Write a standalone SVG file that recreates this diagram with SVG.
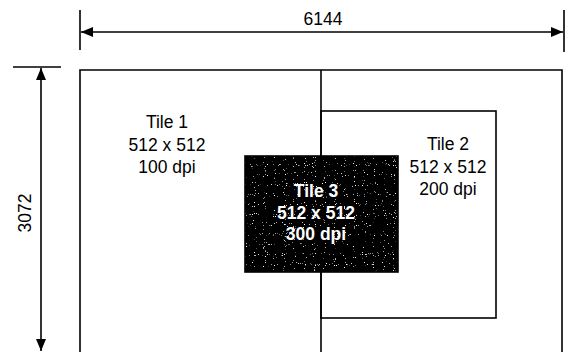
<svg xmlns="http://www.w3.org/2000/svg" width="569" height="352" viewBox="0 0 569 352">
<style>
.ln{stroke:#000;stroke-width:1.6;fill:none}
.t{font-family:"Liberation Sans",Arial,sans-serif;font-size:17.5px;fill:#000;text-anchor:middle}
.w{font-family:"Liberation Sans",Arial,sans-serif;font-size:17.5px;fill:#fff;text-anchor:middle;font-weight:bold}
</style>
<defs>
<marker id="ah" viewBox="0 0 12 10" refX="12" refY="5" markerWidth="12" markerHeight="10" markerUnits="userSpaceOnUse" orient="auto-start-reverse">
<path d="M0,0 L12,5 L0,10 Z" fill="#000"/>
</marker>
<filter id="speck" x="0" y="0" width="1" height="1">
<feTurbulence type="fractalNoise" baseFrequency="0.9" numOctaves="1" seed="3" result="n"/>
<feColorMatrix in="n" type="matrix" values="0 0 0 0 1  0 0 0 0 1  0 0 0 0 1  0 0 0 12 -8.2" result="s"/>
<feComposite in="s" in2="SourceGraphic" operator="in" result="s2"/>
<feMerge><feMergeNode in="SourceGraphic"/><feMergeNode in="s2"/></feMerge>
</filter>
</defs>
<g id="connectors">
<line class="ln" x1="80" y1="10" x2="80" y2="50"/>
<line class="ln" x1="564" y1="10" x2="564" y2="52"/>
<line class="ln" x1="81" y1="32" x2="563" y2="32" marker-start="url(#ah)" marker-end="url(#ah)"/>
<line class="ln" x1="13" y1="67" x2="61" y2="67"/>
<line class="ln" x1="41" y1="68" x2="41" y2="351" marker-start="url(#ah)" marker-end="url(#ah)"/>
</g>
<g id="dim-labels">
<text class="t" x="323" y="25">6144</text>
<text class="t" transform="translate(31,213) rotate(-90)">3072</text>
</g>
<g id="outer">
<path class="ln" d="M80,352 V70 H562 V352"/>
</g>
<g id="tile1">
<line class="ln" x1="321" y1="70" x2="321" y2="352"/>
<text class="t" x="167" y="128">Tile 1</text>
<text class="t" x="167" y="151">512 x 512</text>
<text class="t" x="167" y="173">100 dpi</text>
</g>
<g id="tile2">
<rect class="ln" x="321" y="111" width="175" height="207" fill="#fff"/>
<text class="t" x="448" y="150">Tile 2</text>
<text class="t" x="448" y="173">512 x 512</text>
<text class="t" x="448" y="195">200 dpi</text>
</g>
<g id="tile3">
<rect x="245" y="156" width="153" height="116" fill="#000" filter="url(#speck)"/>
<rect x="245" y="156" width="153" height="116" fill="none" stroke="#000" stroke-width="1.6"/>
<text class="w" x="316" y="197">Tile 3</text>
<text class="w" x="316" y="219">512 x 512</text>
<text class="w" x="316" y="240">300 dpi</text>
</g>
</svg>
